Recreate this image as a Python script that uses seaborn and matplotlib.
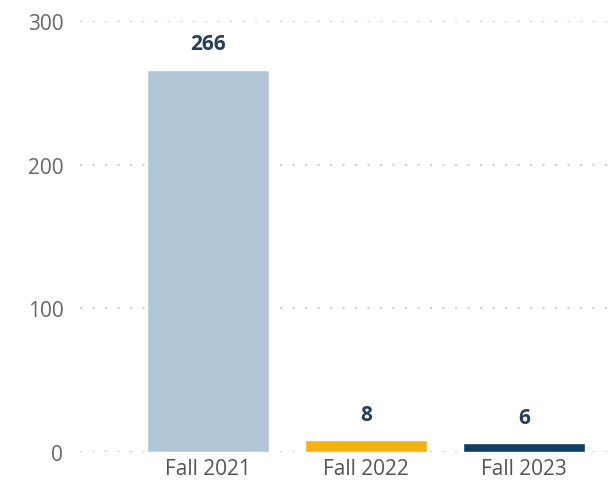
import matplotlib
matplotlib.use("Agg")
import matplotlib.pyplot as plt
import seaborn as sns
import pandas as pd

categories = ["Fall 2021", "Fall 2022", "Fall 2023"]
values = [266, 8, 6]
colors = ["#b0c6d4", "#f5b20a", "#0e3e66"]

sns.set_theme(style="white")
plt.rcParams['font.family'] = ['Open Sans', 'DejaVu Sans']

df = pd.DataFrame({"term": categories, "count": values})

fig = plt.figure(figsize=(6.11, 4.85), dpi=100)
ax = fig.add_axes([0.131, 0.066, 0.869, 0.8886])
sns.barplot(data=df, x="term", y="count", hue="term", palette=colors, width=0.77,
            legend=False, ax=ax, saturation=1)

ax.set_ylim(0, 300)
ax.set_xlim(-0.81, 2.55)
ax.set_yticks([0, 100, 200, 300])
ax.yaxis.grid(True, linestyle=(0, (1, 5)), color="#d0d0d0", linewidth=1.5)
ax.set_axisbelow(True)
for s in ax.spines.values():
    s.set_visible(False)
ax.set_xlabel("")
ax.set_ylabel("")
ax.tick_params(axis="y", labelsize=15, labelcolor="#666666", pad=12, length=0)
ax.tick_params(axis="x", labelsize=15, labelcolor="#555555", pad=4, length=0)

for i, v in enumerate(values):
    ax.text(i, v + 11, str(v), ha="center", va="bottom", fontsize=15,
            fontweight="bold", color="#253d5b")

fig.savefig("out.png", dpi=100)
